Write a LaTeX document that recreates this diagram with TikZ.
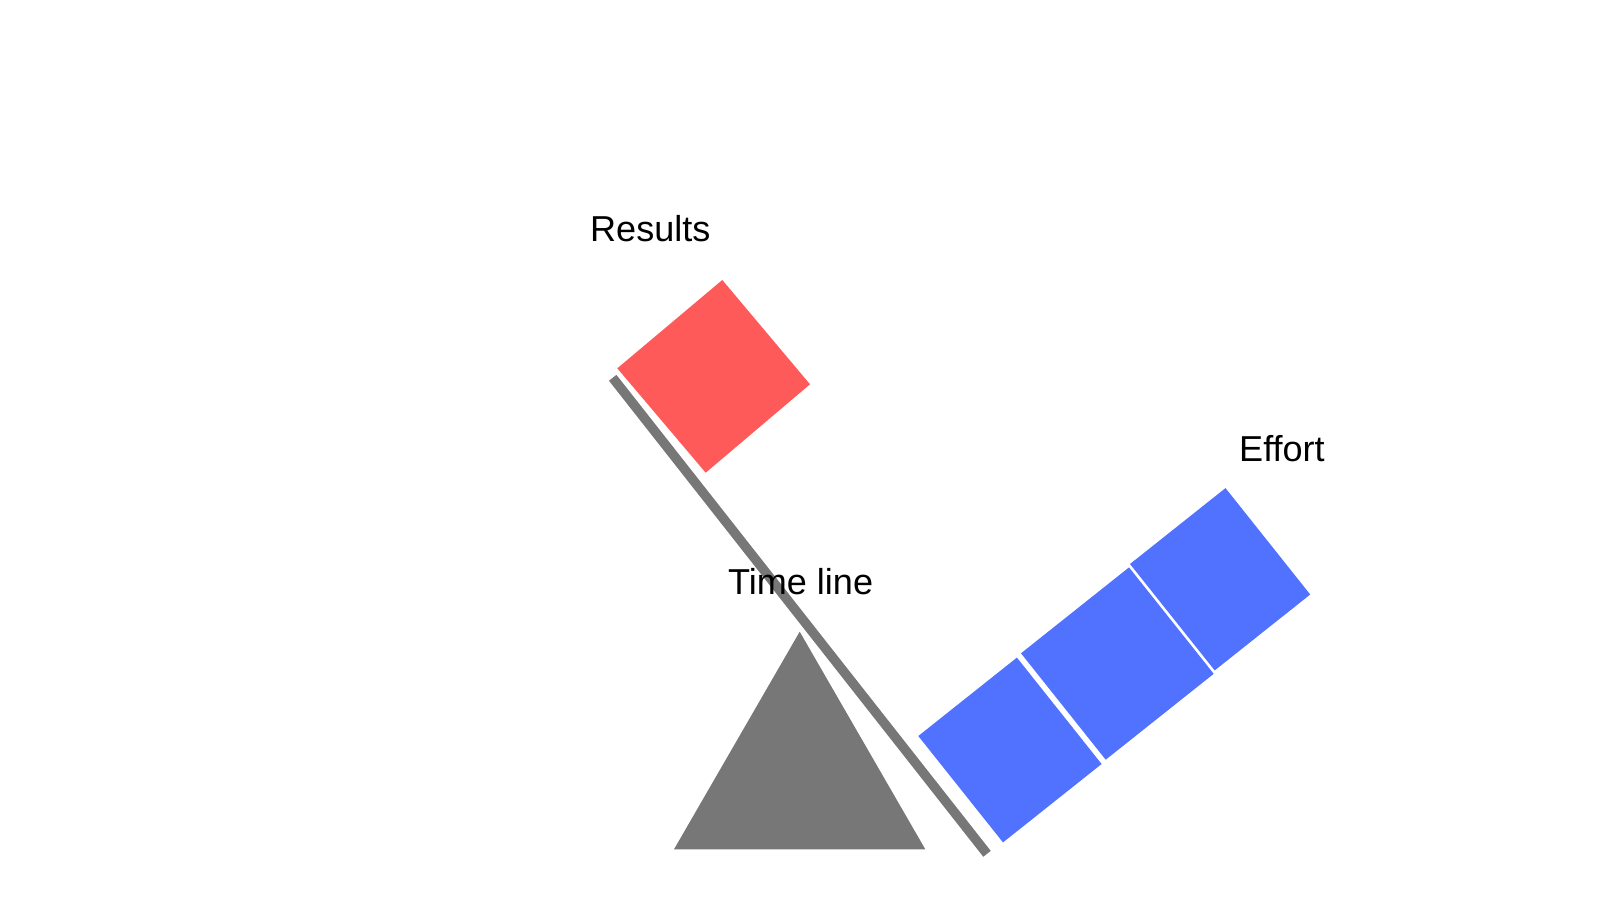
\documentclass[tikz,border=0pt]{standalone}
\usepackage{fontspec}
\setmainfont{Liberation Sans}
\definecolor{resultred}{HTML}{FF5A5A}
\definecolor{effortblue}{HTML}{5072FF}
\definecolor{beamgray}{HTML}{777777}
\begin{document}
\begin{tikzpicture}[
  x=0.01cm, y=-0.01cm,
  beam/.style={draw=beamgray, line width=0.095cm},
  pivot/.style={fill=beamgray},
  redblock/.style={fill=resultred},
  blueblock/.style={fill=effortblue},
  lbl/.style={anchor=base west, inner sep=0pt, font=\fontsize{10.25}{12}\selectfont}
]
\useasboundingbox (0,0) rectangle (1600,900);
% pivot and beam
\fill[pivot] (674,849.3) -- (799.7,631.7) -- (925.3,849.3) -- cycle;
\draw[beam] (612.7,377.8) -- (987,853.8);
% results block
\fill[redblock] (617.3,368.3) -- (722.3,280) -- (810,384.3) -- (705.7,472.7) -- cycle;
% effort blocks
\fill[blueblock] (918.3,736) -- (1016.9,657.6) -- (1101.6,764) -- (1003,842.4) -- cycle;
\fill[blueblock] (1021,653.3) -- (1129,567.4) -- (1213.7,673.8) -- (1105.7,759.7) -- cycle;
\fill[blueblock] (1130,564) -- (1225.5,488.1) -- (1310.2,594.5) -- (1214.7,670.4) -- cycle;
% labels
\node[lbl] (results) at (589.5,241.7) {Results};
\node[lbl] (timeline) at (727.5,594) {Time line};
\node[lbl] (effort) at (1238.5,461.7) {Effort};
\end{tikzpicture}
\end{document}
